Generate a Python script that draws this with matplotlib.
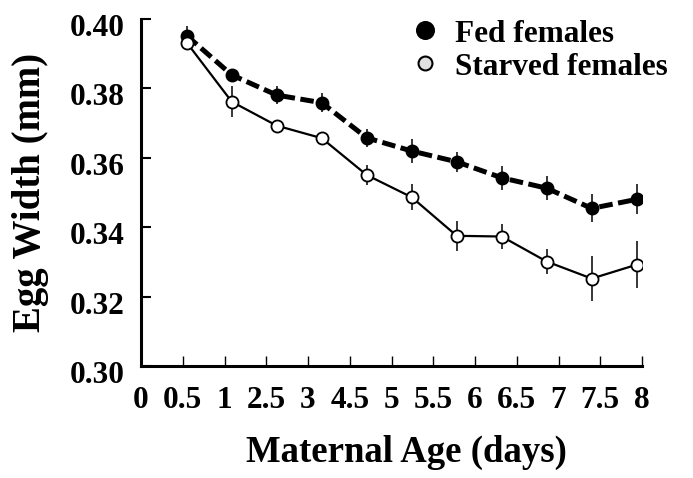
import matplotlib
matplotlib.use('Agg')
import matplotlib.pyplot as plt
from matplotlib.lines import Line2D
from matplotlib.transforms import ScaledTranslation

# ---- data ----
age_labels = ['0', '0.5', '1', '2.5', '3', '4.5', '5', '5.5', '6', '6.5', '7', '7.5', '8']
sample_ages = ['0.5', '1', '2.5', '3', '4.5', '5', '5.5', '6', '6.5', '7', '7.5']
fed_mean = [0.3952, 0.3839, 0.3781, 0.3759, 0.3658, 0.3620, 0.3589, 0.3543, 0.3513, 0.3455, 0.3481]
fed_err = [0.0028, 0.0015, 0.0027, 0.0028, 0.0025, 0.0035, 0.0029, 0.0035, 0.0035, 0.0040, 0.0043]
starved_mean = [0.3932, 0.3762, 0.3693, 0.3657, 0.3551, 0.3487, 0.3376, 0.3374, 0.3302, 0.3253, 0.3293]
starved_err = [0.0022, 0.0045, 0.0010, 0.0010, 0.0029, 0.0038, 0.0043, 0.0037, 0.0036, 0.0066, 0.0067]
y_ticks = [0.30, 0.32, 0.34, 0.36, 0.38, 0.40]
y_ticklabels = ['0.30', '0.32', '0.34', '0.36', '0.38', '0.40']
series_names = ['Fed females', 'Starved females']

plt.rcParams['font.family'] = ['Liberation Serif', 'DejaVu Serif']
plt.rcParams['font.weight'] = 'bold'

fig = plt.figure(figsize=(6.93, 4.78), dpi=100)
ax = fig.add_axes([0.2035, 0.2333, 0.7229, 0.727])
ax.set_xlim(0, len(age_labels) - 1)
ax.set_ylim(y_ticks[0], y_ticks[-1])
ax.set_xticks(range(len(age_labels)))
ax.set_xticklabels(age_labels, fontsize=22.5, fontweight='bold')
ax.set_yticks(y_ticks)
ax.set_yticklabels(y_ticklabels, fontsize=22.5, fontweight='bold')
ax.tick_params(axis='x', direction='in', length=7, width=1.0, pad=14)
ax.tick_params(axis='y', direction='in', length=7, width=1.5, pad=12)
off = ScaledTranslation(0, -4 / 72, fig.dpi_scale_trans)
for lbl in ax.get_yticklabels():
    lbl.set_transform(lbl.get_transform() + off)
for s in ['top', 'right']:
    ax.spines[s].set_visible(False)
for s in ['left', 'bottom']:
    ax.spines[s].set_linewidth(2.2)
ax.set_xlabel('Maternal Age (days)', fontsize=26.5, fontweight='bold')
ax.set_ylabel('Egg Width (mm)', fontsize=28, fontweight='bold')
ax.xaxis.set_label_coords(0.529, -0.198)
ax.yaxis.set_label_coords(-0.184, 0.5)

# data axis (points are spaced slightly wider than the tick labels in the original)
ax2 = ax.twiny()
ax2.set_xlim(-1.016, 10.117)
ax2.set_xticks([])
for s in ax2.spines.values():
    s.set_visible(False)
pos = list(range(len(sample_ages)))

ax2.errorbar(pos, fed_mean, yerr=fed_err, fmt='none', ecolor='black', elinewidth=1.1, capsize=0, zorder=2)
ax2.errorbar(pos, starved_mean, yerr=starved_err, fmt='none', ecolor='black', elinewidth=1.1, capsize=0, zorder=2)
ax2.plot(pos, fed_mean, color='black', lw=3.6, linestyle=(0, (2.7, 1.1)), zorder=3)
ax2.plot(pos, starved_mean, color='black', lw=1.6, zorder=3)
ax2.plot(pos, fed_mean, ls='none', marker='o', ms=8.7, mfc='black', mec='black', mew=1.3, zorder=4)
ax2.plot(pos, starved_mean, ls='none', marker='o', ms=8.7, mfc='white', mec='black', mew=1.3, zorder=4)

# legend (drawn manually to match the original spacing)
fig.add_artist(Line2D([0.6133], [0.9372], transform=fig.transFigure, ls='none', marker='o',
                      ms=12.2, mfc='black', mec='black', mew=1.5))
fig.add_artist(Line2D([0.6133], [0.8682], transform=fig.transFigure, ls='none', marker='o',
                      ms=10, mfc='#e0e0e0', mec='black', mew=1.5))
fig.text(0.6566, 0.9128, series_names[0], fontsize=22.5, fontweight='bold', va='baseline', ha='left')
fig.text(0.6566, 0.8437, series_names[1], fontsize=22.5, fontweight='bold', va='baseline', ha='left')

fig.savefig('out.png', dpi=100)
